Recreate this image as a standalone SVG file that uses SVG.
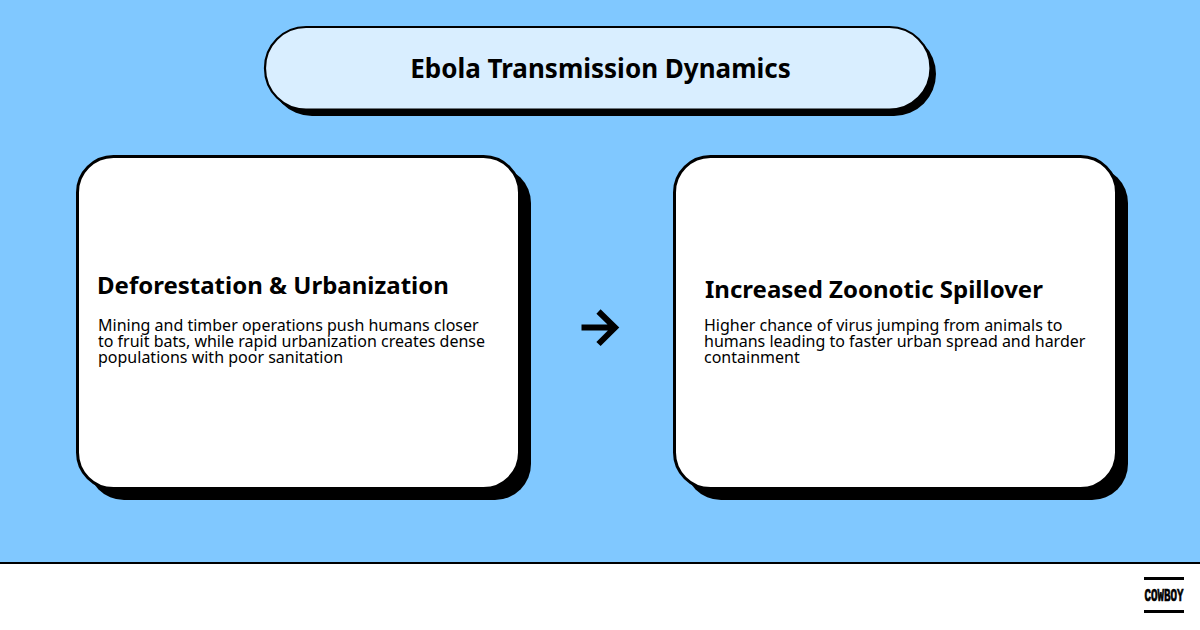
<svg xmlns="http://www.w3.org/2000/svg" width="1200" height="630" viewBox="0 0 1200 630">
<style>
.h{font-family:"Noto Sans","Open Sans",sans-serif;font-weight:700;fill:#000}
.b{font-family:"Noto Sans","Open Sans",sans-serif;font-size:16px;fill:#000}
.s{fill:#000}
.c{fill:#fff;stroke:#000;stroke-width:3}
</style>
<rect width="1200" height="630" fill="#80c8ff"/>
<g id="footer">
<rect x="0" y="562" width="1200" height="68" fill="#fff"/>
<rect x="0" y="562" width="1200" height="2" fill="#000"/>
</g>
<g id="title">
<rect class="s" x="270" y="32" width="666" height="84" rx="42"/>
<rect x="265" y="27" width="665.500" height="82.500" rx="41" fill="#d9eeff" stroke="#000" stroke-width="2.200"/>
<text class="h" x="600.500" y="78" font-size="26" text-anchor="middle">Ebola Transmission Dynamics</text>
</g>
<g id="node-left">
<rect class="s" x="88" y="167" width="443" height="333" rx="36"/>
<rect class="c" x="77.500" y="156.500" width="442" height="332" rx="36"/>
<text class="h" x="97" y="294" font-size="24">Deforestation &amp; Urbanization</text>
<text class="b" x="98" y="331">Mining and timber operations push humans closer</text>
<text class="b" x="98" y="347">to fruit bats, while rapid urbanization creates dense</text>
<text class="b" x="98" y="363">populations with poor sanitation</text>
</g>
<g id="node-right">
<rect class="s" x="685" y="167" width="443" height="333" rx="36"/>
<rect class="c" x="674.500" y="156.500" width="442" height="332" rx="36"/>
<text class="h" x="705" y="298" font-size="24">Increased Zoonotic Spillover</text>
<text class="b" x="704" y="331">Higher chance of virus jumping from animals to</text>
<text class="b" x="704" y="347">humans leading to faster urban spread and harder</text>
<text class="b" x="704" y="363">containment</text>
</g>
<g id="connectors">
<path d="M581.500 327.500H615M598.500 311.500L615 327.500L598.500 344" fill="none" stroke="#000" stroke-width="6"/>
</g>
<g id="logo">
<rect x="1144" y="577" width="40" height="3" fill="#000"/>
<rect x="1144" y="610" width="40" height="3" fill="#000"/>
<text x="1144.500" y="601" font-family="Liberation Mono" font-weight="700" font-size="18" textLength="39" lengthAdjust="spacingAndGlyphs" fill="#000" stroke="#000" stroke-width="0.700">COWBOY</text>
</g>
</svg>
